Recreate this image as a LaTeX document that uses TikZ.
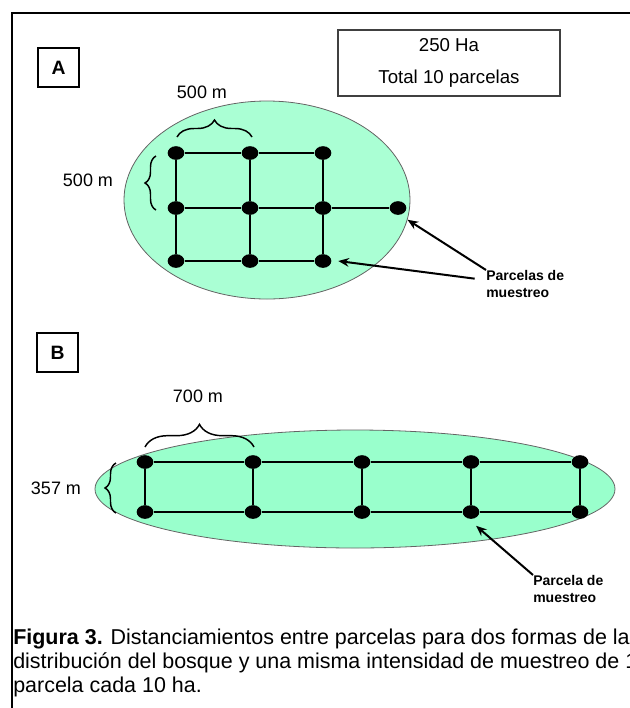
\documentclass[tikz,border=0pt]{standalone}
\usepackage{fontspec}
\setmainfont{Liberation Sans}
\usetikzlibrary{positioning}
\usetikzlibrary{shapes.geometric}
\usetikzlibrary{arrows.meta}
\usetikzlibrary{decorations.pathreplacing}

\definecolor{mintA}{RGB}{170,255,212}
\definecolor{mintB}{RGB}{153,255,204}
\definecolor{rimgray}{RGB}{100,100,100}

\tikzset{
  plotdot/.style = {ellipse, fill = black, inner sep = 0pt, minimum width = 12.5pt, minimum height = 10.25pt},
  forest/.style = {ellipse, draw = rimgray, line width = 0.6pt, inner sep = 0pt},
  grid/.style = {line width = 1pt},
  labelbox/.style = {draw, line width = 1.5pt, minimum width = 30.75pt, minimum height = 29.25pt, font = \fontsize{14.5}{16}\selectfont\bfseries},
  dist/.style = {font = \fontsize{13.5}{16}\selectfont},
  note/.style = {align = left, inner sep = 0pt, font = \fontsize{10.5}{13}\selectfont\bfseries},
  arr/.style = {line width = 1.5pt, -{Stealth[length = 8pt, width = 6.5pt]}},
  brc/.style = {line width = 1.1pt, decorate, decoration = {brace, amplitude = #1}}
}

\begin{document}
\begin{tikzpicture}[x = 0.75pt, y = -0.75pt]
      \useasboundingbox (0,0) rectangle (630,708);
      \draw [line width = 1.5pt] (12,708) -- (12,13) -- (632,13);

      \node[labelbox] (boxA) at (58.5,67.5) {A};
      \node[draw = black!75, line width = 1.1pt, minimum width = 166.5pt, minimum height = 49.5pt, align = center,
            font = \fontsize{14}{24}\selectfont] (info) at (449,63) {250 Ha\\Total 10 parcelas};

      \node[forest, fill = mintA, minimum width = 214.5pt, minimum height = 148.5pt] (forestA) at (267,200) {};

      \node[plotdot] (a11) at (176,153) {};
      \node[plotdot] (a12) at (250,153) {};
      \node[plotdot] (a13) at (323,153) {};
      \node[plotdot] (a21) at (176,208) {};
      \node[plotdot] (a22) at (250,208) {};
      \node[plotdot] (a23) at (323,208) {};
      \node[plotdot] (a24) at (398,208) {};
      \node[plotdot] (a31) at (176,261) {};
      \node[plotdot] (a32) at (250,261) {};
      \node[plotdot] (a33) at (323,261) {};

      \draw[grid] (a11) -- (a12) -- (a13);
      \draw[grid] (a21) -- (a22) -- (a23) -- (a24);
      \draw[grid] (a31) -- (a32) -- (a33);
      \draw[grid] (a11) -- (a21) -- (a31);
      \draw[grid, line width = 1.6pt] (a12) -- (a22);
      \draw[grid] (a22) -- (a32);
      \draw[grid] (a13) -- (a23) -- (a33);

      \draw[brc = 12.75pt] (177,137) -- (252,137);
      \draw[brc = 8.25pt] (156,210) -- (156,156);
      \node[dist] (wA) at (202,92) {500 m};
      \node[dist] (hA) at (88,180) {500 m};

      \node[note, anchor = north west] (txtA) at (486,270) {Parcelas de\\muestreo};
      \draw[arr] (txtA.north west) -- (forestA.-8);
      \draw[arr] ([shift = {(-8.5pt,-6.5pt)}]txtA.north west) -- ([xshift = 5pt]a33.east);

      \node[labelbox] (boxB) at (57.5,352.5) {B};

      \node[forest, fill = mintB, minimum width = 390pt, minimum height = 88.5pt] (forestB) at (355,489) {};

      \node[plotdot] (b11) at (145,462) {};
      \node[plotdot] (b12) at (253,462) {};
      \node[plotdot] (b13) at (362,462) {};
      \node[plotdot] (b14) at (471,462) {};
      \node[plotdot] (b15) at (580,462) {};
      \node[plotdot] (b21) at (145,512) {};
      \node[plotdot] (b22) at (253,512) {};
      \node[plotdot] (b23) at (362,512) {};
      \node[plotdot] (b24) at (471,512) {};
      \node[plotdot] (b25) at (580,512) {};

      \draw[grid] (b11) -- (b12) -- (b13) -- (b14) -- (b15);
      \draw[grid] (b21) -- (b22) -- (b23) -- (b24) -- (b25);
      \draw[grid] (b11) -- (b21);
      \draw[grid] (b12) -- (b22);
      \draw[grid] (b13) -- (b23);
      \draw[grid] (b14) -- (b24);
      \draw[grid] (b15) -- (b25);

      \draw[brc = 17pt] (145,447) -- (254,447);
      \draw[brc = 8.25pt] (116,513) -- (116,463);
      \node[dist] (wB) at (198,396) {700 m};
      \node[dist] (hB) at (56,488) {357 m};

      \node[note, anchor = north west] (txtB) at (533,575) {Parcela de\\muestreo};
      \draw[arr] (txtB.north west) -- ([shift = {(3.75pt,-5pt)}]b24.south);

      \node[align = left, inner sep = 0pt, anchor = north west, font = \fontsize{16.1}{18}\selectfont] (caption) at (13,628.5)
        {\textbf{Figura 3.} Distanciamientos entre parcelas para dos formas de la\\
         distribución del bosque y una misma intensidad de muestreo de 1\\
         parcela cada 10 ha.};
    \end{tikzpicture}
\end{document}
